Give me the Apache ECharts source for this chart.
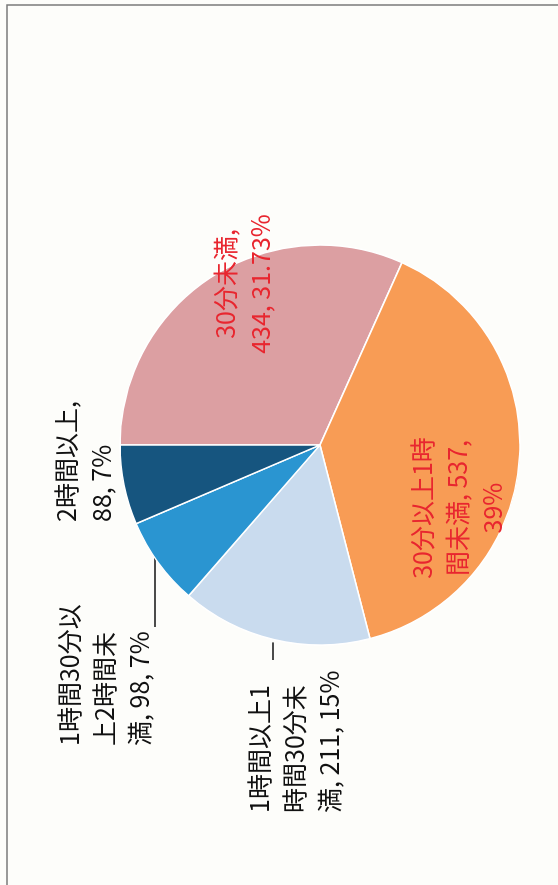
<!DOCTYPE html>
<html>
<head>
<meta charset="utf-8">
<script src="https://cdn.jsdelivr.net/npm/echarts@6/dist/echarts.min.js"></script>
<style>
  html, body { margin: 0; padding: 0; background: #fdfdfa; overflow: hidden; }
  /* the scan is turned on its side, so the chart is drawn upright and rotated */
  #chart {
    position: absolute;
    left: 0;
    top: 885px;
    width: 885px;
    height: 558px;
    transform-origin: 0 0;
    transform: rotate(-90deg);
  }
</style>
</head>
<body>
<div id="chart"></div>
<script>
const categories = ['30分未満', '30分以上1時間未満', '1時間以上1時間30分未満', '1時間30分以上2時間未満', '2時間以上'];
const counts = [434, 537, 211, 98, 88];
const percents = ['31.73%', '39%', '15%', '7%', '7%'];
const colors = ['#dc9fa2', '#f89c55', '#c9dbee', '#2a95d1', '#16557f'];
// characters per wrapped line (last line takes the rest)
const wrapCounts = [[6], [7, 9], [6, 6], [7, 5], [6]];

const cx = 440, cy = 320, radius = 200;

// label boxes, in the upright chart's pixels
const labelPos = [
  { x: 601, y: 243, align: 'center', verticalAlign: 'middle' },
  { x: 377, y: 457, align: 'center', verticalAlign: 'middle' },
  { x: 72, y: 242, align: 'left', verticalAlign: 'top' },
  { x: 139, y: 52, align: 'left', verticalAlign: 'top' },
  { x: 363, y: 49, align: 'left', verticalAlign: 'top' }
];
// straight leader lines: [start x, y] running to the pie edge
const leaders = { 2: [225, 273, 3], 3: [258, 155, 0] };

function edgeX(y) {
  return cx - Math.sqrt(radius * radius - (y - cy) * (y - cy));
}

function wrapLabel(i) {
  const full = categories[i] + ', ' + counts[i] + ', ' + percents[i];
  const lines = [];
  let pos = 0;
  wrapCounts[i].forEach(function (n) {
    lines.push(full.slice(pos, pos + n).trim());
    pos += n;
  });
  lines.push(full.slice(pos).trim());
  return lines.join('\n');
}

const insideSet = [0, 1];

const chart = echarts.init(document.getElementById('chart'));

chart.setOption({
  backgroundColor: '#fdfdfa',
  animation: false,
  textStyle: { fontFamily: 'Noto Sans CJK JP' },
  graphic: [
    {
      type: 'rect',
      shape: { x: -20, y: 7, width: 900, height: 600 },
      style: { fill: 'none', stroke: '#7a7a7a', lineWidth: 1.5 },
      silent: true
    }
  ],
  series: [
    {
      type: 'pie',
      center: [cx, cy],
      radius: radius,
      startAngle: 90,
      clockwise: true,
      avoidLabelOverlap: false,
      itemStyle: { borderColor: '#ffffff', borderWidth: 1.5 },
      label: {
        fontSize: 25,
        lineHeight: 35,
        fontFamily: 'Noto Sans CJK JP',
        formatter: function (p) { return wrapLabel(p.dataIndex); }
      },
      labelLine: {
        show: true,
        lineStyle: { color: '#111', width: 1.5 }
      },
      labelLayout: function (params) {
        const i = params.dataIndex;
        const out = Object.assign({}, labelPos[i]);
        const ld = leaders[i];
        if (ld) {
          const end = edgeX(ld[1]) - ld[2];
          out.labelLinePoints = [[ld[0], ld[1]], [end, ld[1]], [end, ld[1]]];
        }
        return out;
      },
      data: categories.map(function (name, i) {
        const inside = insideSet.indexOf(i) >= 0;
        return {
          name: name,
          value: counts[i],
          itemStyle: { color: colors[i] },
          label: {
            position: inside ? 'inside' : 'outside',
            color: inside ? '#e8262f' : '#111111'
          },
          labelLine: { show: !!leaders[i] }
        };
      })
    }
  ]
});
</script>
</body>
</html>
